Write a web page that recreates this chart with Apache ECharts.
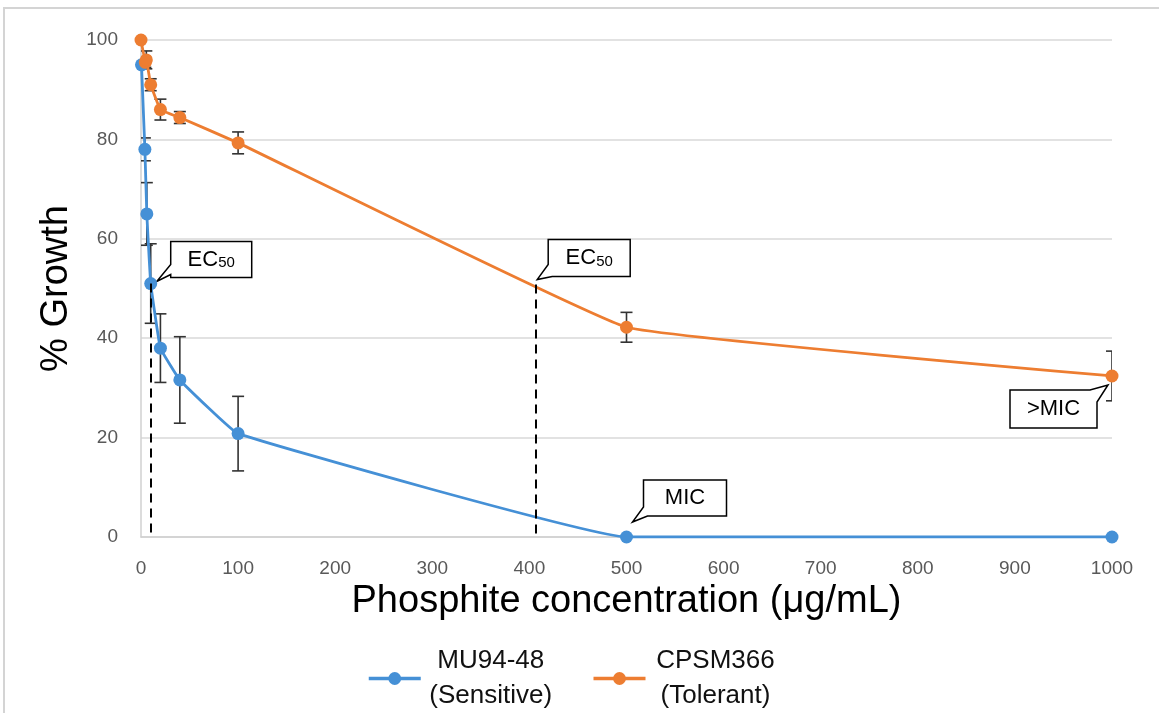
<!DOCTYPE html>
<html>
<head>
<meta charset="utf-8">
<title>Phosphite growth</title>
<style>
  html, body { margin: 0; padding: 0; background: #fff; }
  #chart { width: 1159px; height: 713px; }
</style>
<script src="https://cdn.jsdelivr.net/npm/echarts@6/dist/echarts.min.js"></script>
</head>
<body>
<div id="chart"></div>
<script>
// values
var sensName = 'MU94-48\n(Sensitive)';
var sensX = [0.5, 4, 6, 10, 20, 40, 100, 500, 1000];
var sensY = [95, 78, 65, 51, 38, 31.6, 20.8, 0, 0];
var sensErr = [0, 2.3, 6.3, 8, 6.9, 8.7, 7.5, 0, 0];

var tolName = 'CPSM366\n(Tolerant)';
var tolX = [0, 4.5, 5.5, 10, 20, 40, 100, 500, 1000];
var tolY = [100, 95.5, 96, 91, 86, 84.4, 79.3, 42.2, 32.4];
var tolErr = [0, 1, 1.8, 1.2, 2.1, 1.2, 2.2, 3, 5];

// EC50 drop lines (x, y)
var ec50Sens = [10, 51];
var ec50Tol = [407, 50.8];

// callouts: label and the data point they point at
var calloutText = ['EC50', 'EC50', 'MIC', '>MIC'];
var calloutAt = [[10, 51], [407, 50.8], [500, 0], [1000, 32.4]];

var blue = '#4590d6';
var orange = '#ed7d31';
var font = 'Liberation Sans, Arial, sans-serif';

function pairs(xs, ys) {
  return xs.map(function (x, i) { return [x, ys[i]]; });
}

function errorSeries(xs, ys, errs) {
  var data = [];
  xs.forEach(function (x, i) {
    if (errs[i] > 0) data.push([x, ys[i] - errs[i], ys[i] + errs[i]]);
  });
  return {
    type: 'custom',
    silent: true,
    clip: true,
    z: 1,
    data: data,
    encode: { x: 0, y: [1, 2] },
    renderItem: function (params, api) {
      var lo = api.coord([api.value(0), api.value(1)]);
      var hi = api.coord([api.value(0), api.value(2)]);
      var hw = 6;
      var st = { stroke: '#333', lineWidth: 1.6 };
      return {
        type: 'group',
        children: [
          { type: 'line', shape: { x1: lo[0], y1: lo[1], x2: hi[0], y2: hi[1] }, style: st },
          { type: 'line', shape: { x1: lo[0] - hw, y1: lo[1], x2: lo[0] + hw, y2: lo[1] }, style: st },
          { type: 'line', shape: { x1: hi[0] - hw, y1: hi[1], x2: hi[0] + hw, y2: hi[1] }, style: st }
        ]
      };
    }
  };
}

function dropLine(p) {
  return {
    silent: true,
    symbol: 'none',
    animation: false,
    label: { show: false },
    lineStyle: { color: '#000', type: [9, 6], width: 2 },
    data: [[{ coord: p }, { coord: [p[0], 0] }]]
  };
}

var dom = document.getElementById('chart');
var myChart = echarts.init(dom, null, { renderer: 'canvas' });

var option = {
  animation: false,
  textStyle: { fontFamily: font },
  grid: { left: 141, right: 47, top: 40, bottom: 176 },
  legend: {
    left: 362,
    top: 643,
    itemGap: 36,
    itemWidth: 52,
    itemHeight: 16,
    lineStyle: { width: 3.5 },
    data: [sensName, tolName],
    formatter: function (name) {
      var parts = name.split('\n');
      return '{n|' + parts[0] + '}\n{n|' + parts[1] + '}';
    },
    textStyle: {
      rich: {
        n: { fontSize: 26, lineHeight: 35, color: '#111', fontFamily: font, width: 130, align: 'center' }
      }
    }
  },
  xAxis: {
    type: 'value',
    min: 0,
    max: 1000,
    interval: 100,
    name: 'Phosphite concentration (μg/mL)',
    nameLocation: 'middle',
    nameGap: 44,
    nameTextStyle: { fontSize: 38, color: '#000', fontFamily: font },
    axisLine: { lineStyle: { color: '#d0d0d0', width: 1.5 } },
    axisTick: { show: false },
    axisLabel: { margin: 22, fontSize: 19, color: '#595959', formatter: function (v) { return String(v); } },
    splitLine: { show: false }
  },
  yAxis: {
    type: 'value',
    min: 0,
    max: 100,
    interval: 20,
    name: '% Growth',
    nameLocation: 'middle',
    nameGap: 64,
    nameTextStyle: { fontSize: 38, color: '#000', fontFamily: font },
    axisLine: { show: true, lineStyle: { color: '#d0d0d0', width: 1.5 } },
    axisTick: { show: false },
    axisLabel: { margin: 23, fontSize: 19, color: '#595959' },
    splitLine: { lineStyle: { color: '#d9d9d9', width: 1.5 } }
  },
  series: [
    errorSeries(sensX, sensY, sensErr),
    errorSeries(tolX, tolY, tolErr),
    {
      name: sensName,
      type: 'line',
      z: 3,
      smooth: 0.08,
      symbol: 'circle',
      symbolSize: 13,
      itemStyle: { color: blue },
      lineStyle: { color: blue, width: 2.8 },
      data: pairs(sensX, sensY),
      markLine: dropLine(ec50Sens)
    },
    {
      name: tolName,
      type: 'line',
      z: 3,
      smooth: 0.08,
      symbol: 'circle',
      symbolSize: 13,
      itemStyle: { color: orange },
      lineStyle: { color: orange, width: 2.8 },
      data: pairs(tolX, tolY),
      markLine: dropLine(ec50Tol)
    }
  ]
};

myChart.setOption(option);

// callout boxes (offsets in px from the point they refer to)
var calloutLayout = [
  { dx: 20, dy: -42, w: 81, h: 36, tip: [6, -2], outline: function (w, h, t) { return [[0, 0], [w, 0], [w, h], [0, h], [0, h - 3], t, [0, h - 13]]; } },
  { dx: 12, dy: -45, w: 82, h: 37, tip: [1, -5], outline: function (w, h, t) { return [[0, 0], [w, 0], [w, h], [4, h], t, [0, h - 12]]; } },
  { dx: 17, dy: -57, w: 83, h: 36, tip: [6, -15], outline: function (w, h, t) { return [[0, 0], [w, 0], [w, h], [4, h], t, [0, h - 9]]; } },
  { dx: -102, dy: 14, w: 87, h: 38, tip: [-4, 9], outline: function (w, h, t) { return [[0, 0], [w - 7, 0], t, [w, 12], [w, h], [0, h]]; } }
];

function drawCallouts() {
  var els = [{
    type: 'rect',
    silent: true,
    z: 0,
    shape: { x: 4, y: 8, width: 1200, height: 800 },
    style: { fill: 'none', stroke: '#d4d4d4', lineWidth: 2 }
  }];
  calloutAt.forEach(function (p, i) {
    var lay = calloutLayout[i];
    var px = myChart.convertToPixel({ gridIndex: 0 }, p);
    var bx = px[0] + lay.dx, by = px[1] + lay.dy;
    var tip = [px[0] + lay.tip[0] - bx, px[1] + lay.tip[1] - by];
    var label = calloutText[i];
    var txt = label.indexOf('EC') === 0
      ? '{a|EC}{b|' + label.slice(2) + '}'
      : '{a|' + label + '}';
    els.push({
      type: 'group',
      x: bx,
      y: by,
      z: 10,
      silent: true,
      children: [
        {
          type: 'polygon',
          shape: { points: lay.outline(lay.w, lay.h, tip) },
          style: { fill: '#fff', stroke: '#000', lineWidth: 1.5 }
        },
        {
          type: 'text',
          x: lay.w / 2,
          y: lay.h / 2,
          style: {
            text: txt,
            align: 'center',
            verticalAlign: 'middle',
            rich: {
              a: { fontSize: 22, fontFamily: font, fill: '#000', lineHeight: 26 },
              b: { fontSize: 15, fontFamily: font, fill: '#000', lineHeight: 26, padding: [7, 0, 0, 0] }
            }
          }
        }
      ]
    });
  });
  myChart.setOption({ graphic: els });
}

drawCallouts();
window.addEventListener('resize', function () {
  myChart.resize();
  drawCallouts();
});
</script>
</body>
</html>
